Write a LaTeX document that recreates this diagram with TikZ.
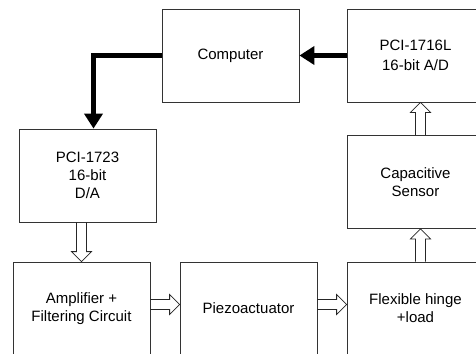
\documentclass[tikz,border=0pt]{standalone}
\usepackage{fontspec}
\setmainfont{Liberation Sans}
\usetikzlibrary{arrows.meta,calc}
\tikzset{
  block/.style={draw=black!80, line width=0.8pt, minimum width=137pt,
    minimum height=93pt, align=center, inner sep=0pt,
    font=\fontsize{15}{18}\selectfont},
  bus/.style={line width=5pt, -{Triangle[length=15pt,width=18pt]}},
  flow/.style={draw=black!85, line width=0.8pt, line join=miter, to path={
    let \p1=($(\tikztotarget)!10pt!(\tikztostart)$) in
    ($(\tikztostart)!5pt!90:(\tikztotarget)$) -- ($(\p1)!5pt!-90:(\tikztostart)$)
    -- ($(\p1)!10pt!-90:(\tikztostart)$) -- (\tikztotarget)
    -- ($(\p1)!10pt!90:(\tikztostart)$) -- ($(\p1)!5pt!90:(\tikztostart)$)
    -- ($(\tikztostart)!5pt!-90:(\tikztotarget)$)}}
}

\begin{document}
\begin{tikzpicture}[x=1pt,y=-1pt]
  \useasboundingbox (0,0) rectangle (476,353);
  \clip (0,0) rectangle (476,353);
  % blocks
  \node[block] (comp)   at (230.5,55.5) {Computer};
  \node[block] (ad)     at (415.5,55.5) {PCI-1716L\\[2pt]16-bit A/D};
  \node[block] (da)     at (87.5,175.5) {PCI-1723\\16-bit\\D/A};
  \node[block] (sensor) at (415.5,182)  {Capacitive\\Sensor};
  \node[block] (amp)    at (81.5,308.5) {Amplifier +\\Filtering Circuit};
  \node[block] (piezo)  at (248.5,308.5) {Piezoactuator};
  \node[block] (hinge)  at (415.5,308.5) {Flexible hinge\\+load};
  % data lines
  \draw[bus] (ad.west) -- (comp.east);
  \draw[bus] (comp.west) -| ([xshift=6pt]da.north);
  % signal flow
  \draw[flow] (da.south -| amp.north) to (amp.north);
  \draw[flow] ([yshift=4pt]amp.east) to ([yshift=4pt]piezo.west);
  \draw[flow] ([yshift=4pt]piezo.east) to ([yshift=4pt]hinge.west);
  \draw[flow] ([xshift=5pt]hinge.north) to ([xshift=5pt]hinge.north |- sensor.south);
  \draw[flow] ([xshift=5pt]sensor.north) to ([xshift=5pt]sensor.north |- ad.south);
\end{tikzpicture}
\end{document}
